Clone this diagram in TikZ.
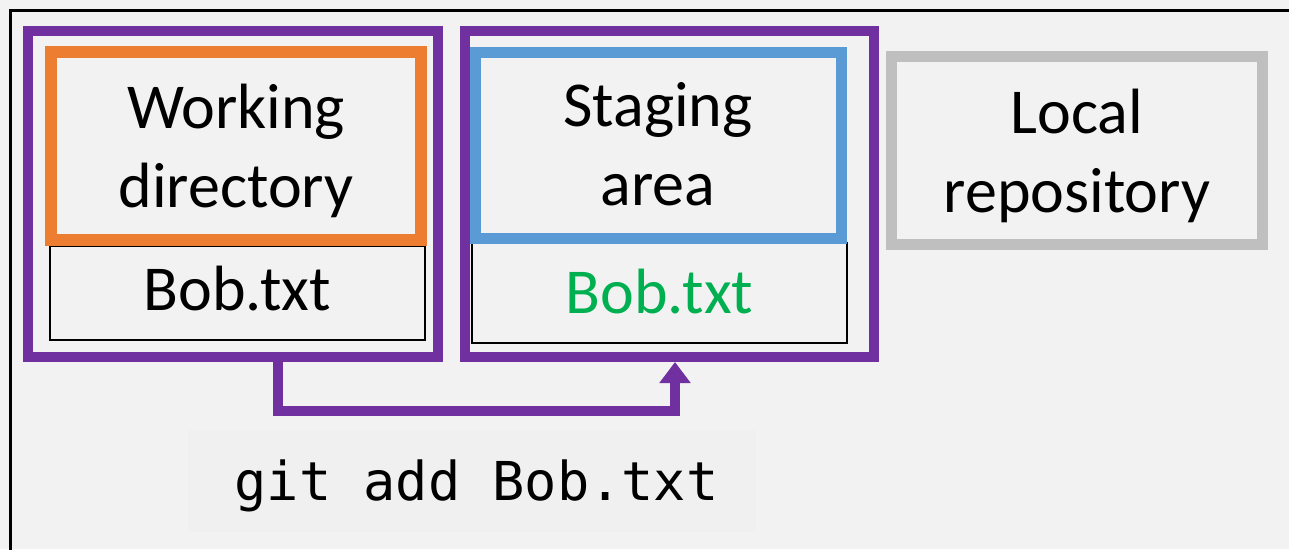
\documentclass[tikz,border=0pt]{standalone}
\usepackage{fontspec}
\setmainfont{Carlito}
\newfontfamily\codefont{DejaVu Sans Mono}
\usetikzlibrary{arrows.meta}
\definecolor{bg}{HTML}{F2F2F2}
\definecolor{codebg}{HTML}{F0F0F0}
\definecolor{gpurple}{HTML}{7030A0}
\definecolor{gorange}{HTML}{ED7D31}
\definecolor{gblue}{HTML}{5B9BD5}
\definecolor{ggray}{HTML}{BFBFBF}
\definecolor{ggreen}{HTML}{00B050}
\begin{document}
\begin{tikzpicture}[x=1pt,y=-1pt,
  box/.style={rectangle, draw, inner sep=0pt},
  groupbox/.style={box, draw=gpurple, line width=10pt},
  areabox/.style={box, line width=12pt},
  filebox/.style={box, draw=black, line width=1.5pt},
  lbl/.style={font=\fontsize{64}{79}\selectfont, align=center, anchor=base, inner sep=0pt},
  conn/.style={draw=gpurple, line width=10pt, -{Triangle[width=30pt,length=21pt]}},
]
\fill[bg] (0,0) rectangle (1289,549);
\useasboundingbox (0,0) rectangle (1289,549);
\draw[line width=3pt] (10.5,600) -- (10.5,10) -- (1320,10);

% left group
\node[groupbox, minimum width=410pt, minimum height=326pt] (p1) at (233,194) {};
\node[filebox, minimum width=375pt, minimum height=94pt] (f1) at (237.5,293) {};
\node[areabox, draw=gorange, minimum width=370pt, minimum height=188pt] (wd) at (236,146) {};
% middle group
\node[groupbox, minimum width=409.5pt, minimum height=326pt] (p2) at (669.25,194) {};
\node[filebox, minimum width=375pt, minimum height=100pt] (f2) at (659.5,293) {};
\node[areabox, draw=gblue, line width=11pt, minimum width=366.5pt, minimum height=185.5pt] (sa) at (658.25,145.25) {};
% right
\node[areabox, draw=ggray, line width=11pt, minimum width=370.5pt, minimum height=188pt] (lr) at (1076.75,150) {};

% labels (base anchor = baseline of the last line)
\node[lbl] (twd) at (236,207) {Working\\directory};
\node[lbl] (tf1) at (237.5,310) {Bob.txt};
\node[lbl] (tsa) at (658,205) {Staging\\area};
\node[lbl, text=ggreen] (tf2) at (659.5,313) {Bob.txt};
\node[lbl] (tlr) at (1077,212) {Local\\repository};

% command
\node[fill=codebg, inner sep=0pt, minimum width=568pt, minimum height=102pt] (cmdbg) at (472,481) {};
\node[font=\codefont\fontsize{53.6}{60}\selectfont, anchor=base, inner sep=0pt] (cmd) at (476.5,500) {git add Bob.txt};

% connector
\coordinate (k1) at (278,411);
\coordinate (k2) at (675,411);
\draw[conn] (k1 |- p1.south) -- (k1) -- (k2) -- (k2 |- p2.south);
\end{tikzpicture}
\end{document}
